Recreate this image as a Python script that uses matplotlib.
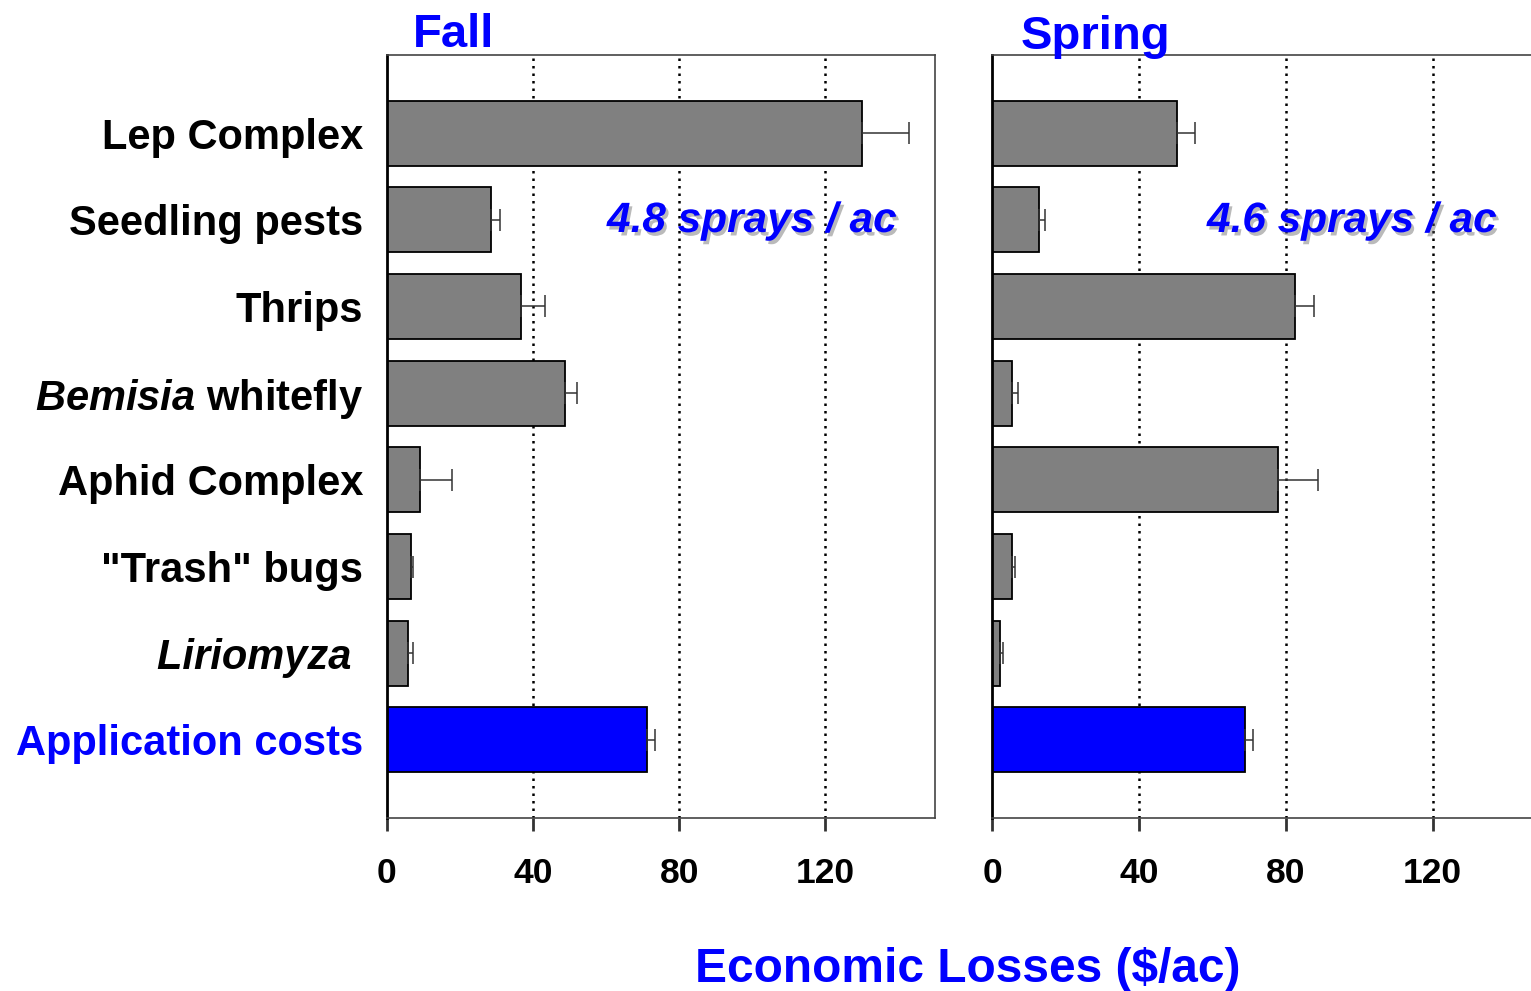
import numpy as np
import matplotlib
matplotlib.use("Agg")
import matplotlib.pyplot as plt
import matplotlib.patheffects as pe

plt.rcParams['font.family'] = ['Liberation Sans', 'DejaVu Sans']
plt.rcParams['font.weight'] = 'bold'
plt.rcParams['mathtext.fontset'] = 'custom'
plt.rcParams['mathtext.it'] = 'Liberation Sans:italic:bold'
plt.rcParams['mathtext.rm'] = 'Liberation Sans:bold'

# data ($/ac)
pests = ['Lep Complex', 'Seedling pests', 'Thrips', r'$\mathit{Bemisia}$ whitefly',
         'Aphid Complex', '"Trash" bugs', 'Liriomyza ', 'Application costs']
fall = [130, 28.4, 36.8, 48.6, 9.0, 6.5, 5.7, 71.2]
fall_err = [13, 2.5, 6.5, 3.3, 8.7, 0.5, 1.4, 2.2]
spring = [50.3, 12.8, 82.4, 5.4, 77.8, 5.4, 2.2, 68.8]
spring_err = [4.9, 1.6, 5.2, 1.7, 10.9, 0.9, 0.8, 2.2]
seasons = ['Fall', 'Spring']
sprays = ['4.8 sprays / ac', '4.6 sprays / ac']
xticks = [0, 40, 80, 120]

W, H = 1531, 991
fig = plt.figure(figsize=(W / 100, H / 100), dpi=100)

blue = '#0000FF'
colors = ['#808080'] * 7 + [blue]
y = np.arange(len(pests))

ax1 = fig.add_axes([387 / W, (H - 818) / H, 548 / W, 763 / H])
ax2 = fig.add_axes([992 / W, (H - 818) / H, 551 / W, 763 / H])

for ax, vals, errs in [(ax1, fall, fall_err), (ax2, spring, spring_err)]:
    ax.barh(y, vals, height=0.75, color=colors, edgecolor='black', linewidth=1.3, zorder=2)
    ax.errorbar(vals, y, xerr=[np.zeros(len(vals)), errs], fmt='none',
                ecolor='#333333', elinewidth=1.1, capsize=8, capthick=1.1, zorder=3)
    ax.set_xlim(0, 150)
    ax.set_ylim(len(pests) - 1 + 0.9, -0.9)
    ax.set_xticks(xticks)
    ax.set_xticklabels([str(t) for t in xticks], fontsize=25.5, fontweight='bold')
    for t in xticks[1:]:
        ax.axvline(t, color='black', linewidth=1.8, linestyle=(0, (1, 2)), zorder=1)
    ax.tick_params(axis='x', direction='out', length=9, width=2, color='#333333', pad=19)
    ax.tick_params(axis='y', length=0)
    ax.spines['left'].set_linewidth(2)
    ax.spines['left'].set_color('black')
    for s in ['top', 'right', 'bottom']:
        ax.spines[s].set_color('#444444')
        ax.spines[s].set_linewidth(1.2)

ax1.set_yticks(y)
ax1.set_yticklabels(pests, fontsize=30, fontweight='bold')
ax1.tick_params(axis='y', pad=17)
ax1.get_yticklabels()[6].set_style('italic')
ax1.get_yticklabels()[-1].set_color(blue)
ax2.set_yticks([])

fig.text(413 / W, (H - 47) / H, seasons[0], fontsize=34, fontweight='bold', color=blue,
         va='baseline', ha='left')
fig.text(1021 / W, (H - 49) / H, seasons[1], fontsize=34, fontweight='bold', color=blue,
         va='baseline', ha='left')

shadow = [pe.withSimplePatchShadow(offset=(2, -2.5), shadow_rgbFace='#666666', alpha=0.45)]
fig.text(607 / W, (H - 232) / H, sprays[0], fontsize=30.5, fontweight='bold', style='italic',
         color=blue, va='baseline', ha='left', path_effects=shadow)
fig.text(1207 / W, (H - 232) / H, sprays[1], fontsize=30.5, fontweight='bold', style='italic',
         color=blue, va='baseline', ha='left', path_effects=shadow)

fig.text(968 / W, (H - 982) / H, 'Economic Losses ($/ac)', fontsize=34.5, fontweight='bold',
         color=blue, va='baseline', ha='center')

fig.savefig('out.png', dpi=100)
